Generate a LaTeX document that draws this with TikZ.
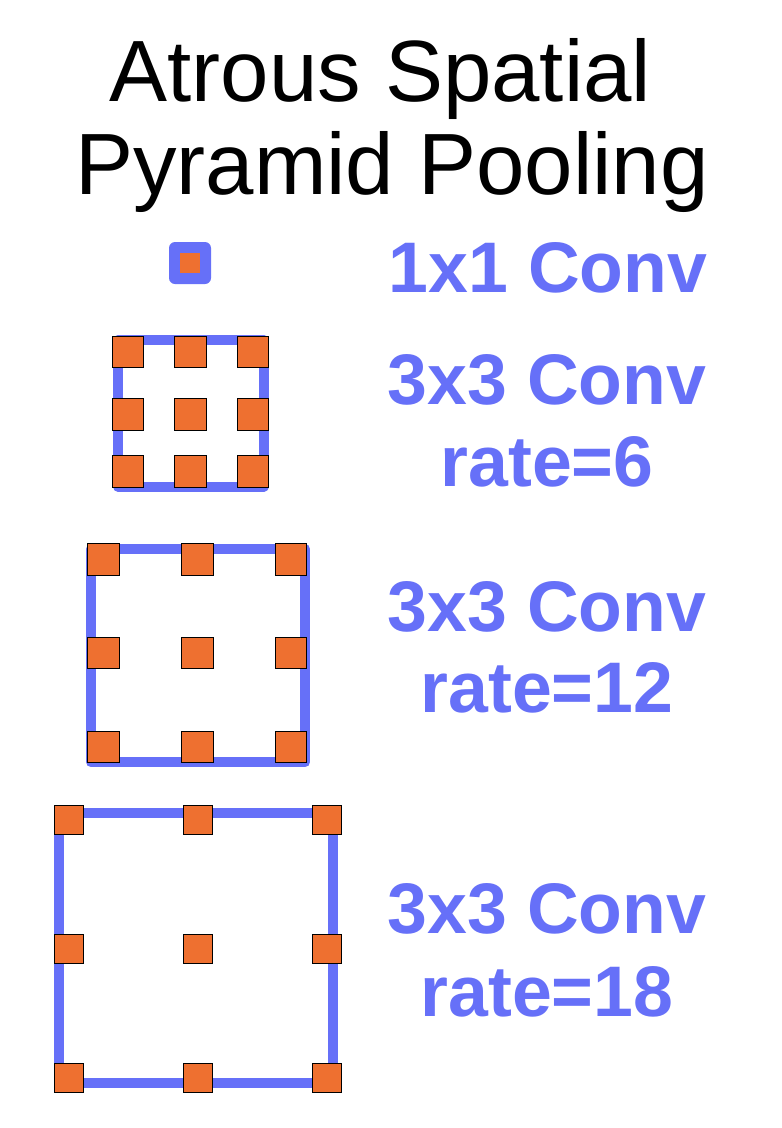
\documentclass[tikz,border=0pt]{standalone}
\usepackage{fontspec}
\setmainfont{Liberation Sans}
\definecolor{aspblue}{RGB}{102,112,248}
\definecolor{asporange}{RGB}{238,112,48}
\begin{document}
\begin{tikzpicture}[x=1pt,y=-1pt,
  sq/.style={draw=black, line width=1pt, fill=asporange, minimum size=#1, inner sep=0pt, outer sep=0pt},
  frm/.style={draw=aspblue, line width=10pt, line join=round},
  lbl/.style={text=aspblue, font=\bfseries\fontsize{71.6}{71.6}\selectfont, anchor=base, inner sep=0pt},
  ttl/.style={text=black, font=\fontsize{87}{87}\selectfont, anchor=base, inner sep=0pt}]
\useasboundingbox (0,0) rectangle (782,1128);
\fill[white] (0,0) rectangle (782,1128);
% title
\node[ttl] (t1) at (380.5,101) {Atrous Spatial};
\node[ttl] (t2) at (392,194) {Pyramid Pooling};
% 1x1
\node[fill=aspblue, rounded corners=6pt, minimum size=42pt, inner sep=0pt] (one) at (190,263) {};
\node[fill=asporange, minimum size=20.5pt, inner sep=0pt] (onec) at (one.center) {};
\node[lbl] (l1) at (548,292.3) {1x1 Conv};
% rate 6
\draw[frm] (118,340) rectangle (263.5,486.7);
\foreach \c [count=\i] in {128,190.5,253}
  \foreach \r [count=\j] in {352,414.5,471.7}
    \node[sq=31.5pt] (a\i\j) at (\c,\r) {};
\node[lbl] (l2a) at (547,404.3) {3x3 Conv};
\node[lbl] (l2b) at (547,486.7) {rate=6};
% rate 12
\draw[frm] (91,549) rectangle (305,762.3);
\foreach \c [count=\i] in {103.7,197.5,291}
  \foreach \r [count=\j] in {559.3,652.8,746.8}
    \node[sq=31.5pt] (b\i\j) at (\c,\r) {};
\node[lbl] (l3a) at (547,631.7) {3x3 Conv};
\node[lbl] (l3b) at (547,712.7) {rate=12};
% rate 18
\draw[frm] (58.7,812.7) rectangle (333.3,1083.3);
\foreach \c [count=\i] in {68.8,198.3,327}
  \foreach \r [count=\j] in {819.5,948.8,1077.8}
    \node[sq=29pt] (c\i\j) at (\c,\r) {};
\node[lbl] (l4a) at (547,933.3) {3x3 Conv};
\node[lbl] (l4b) at (547,1016.7) {rate=18};
\end{tikzpicture}
\end{document}
